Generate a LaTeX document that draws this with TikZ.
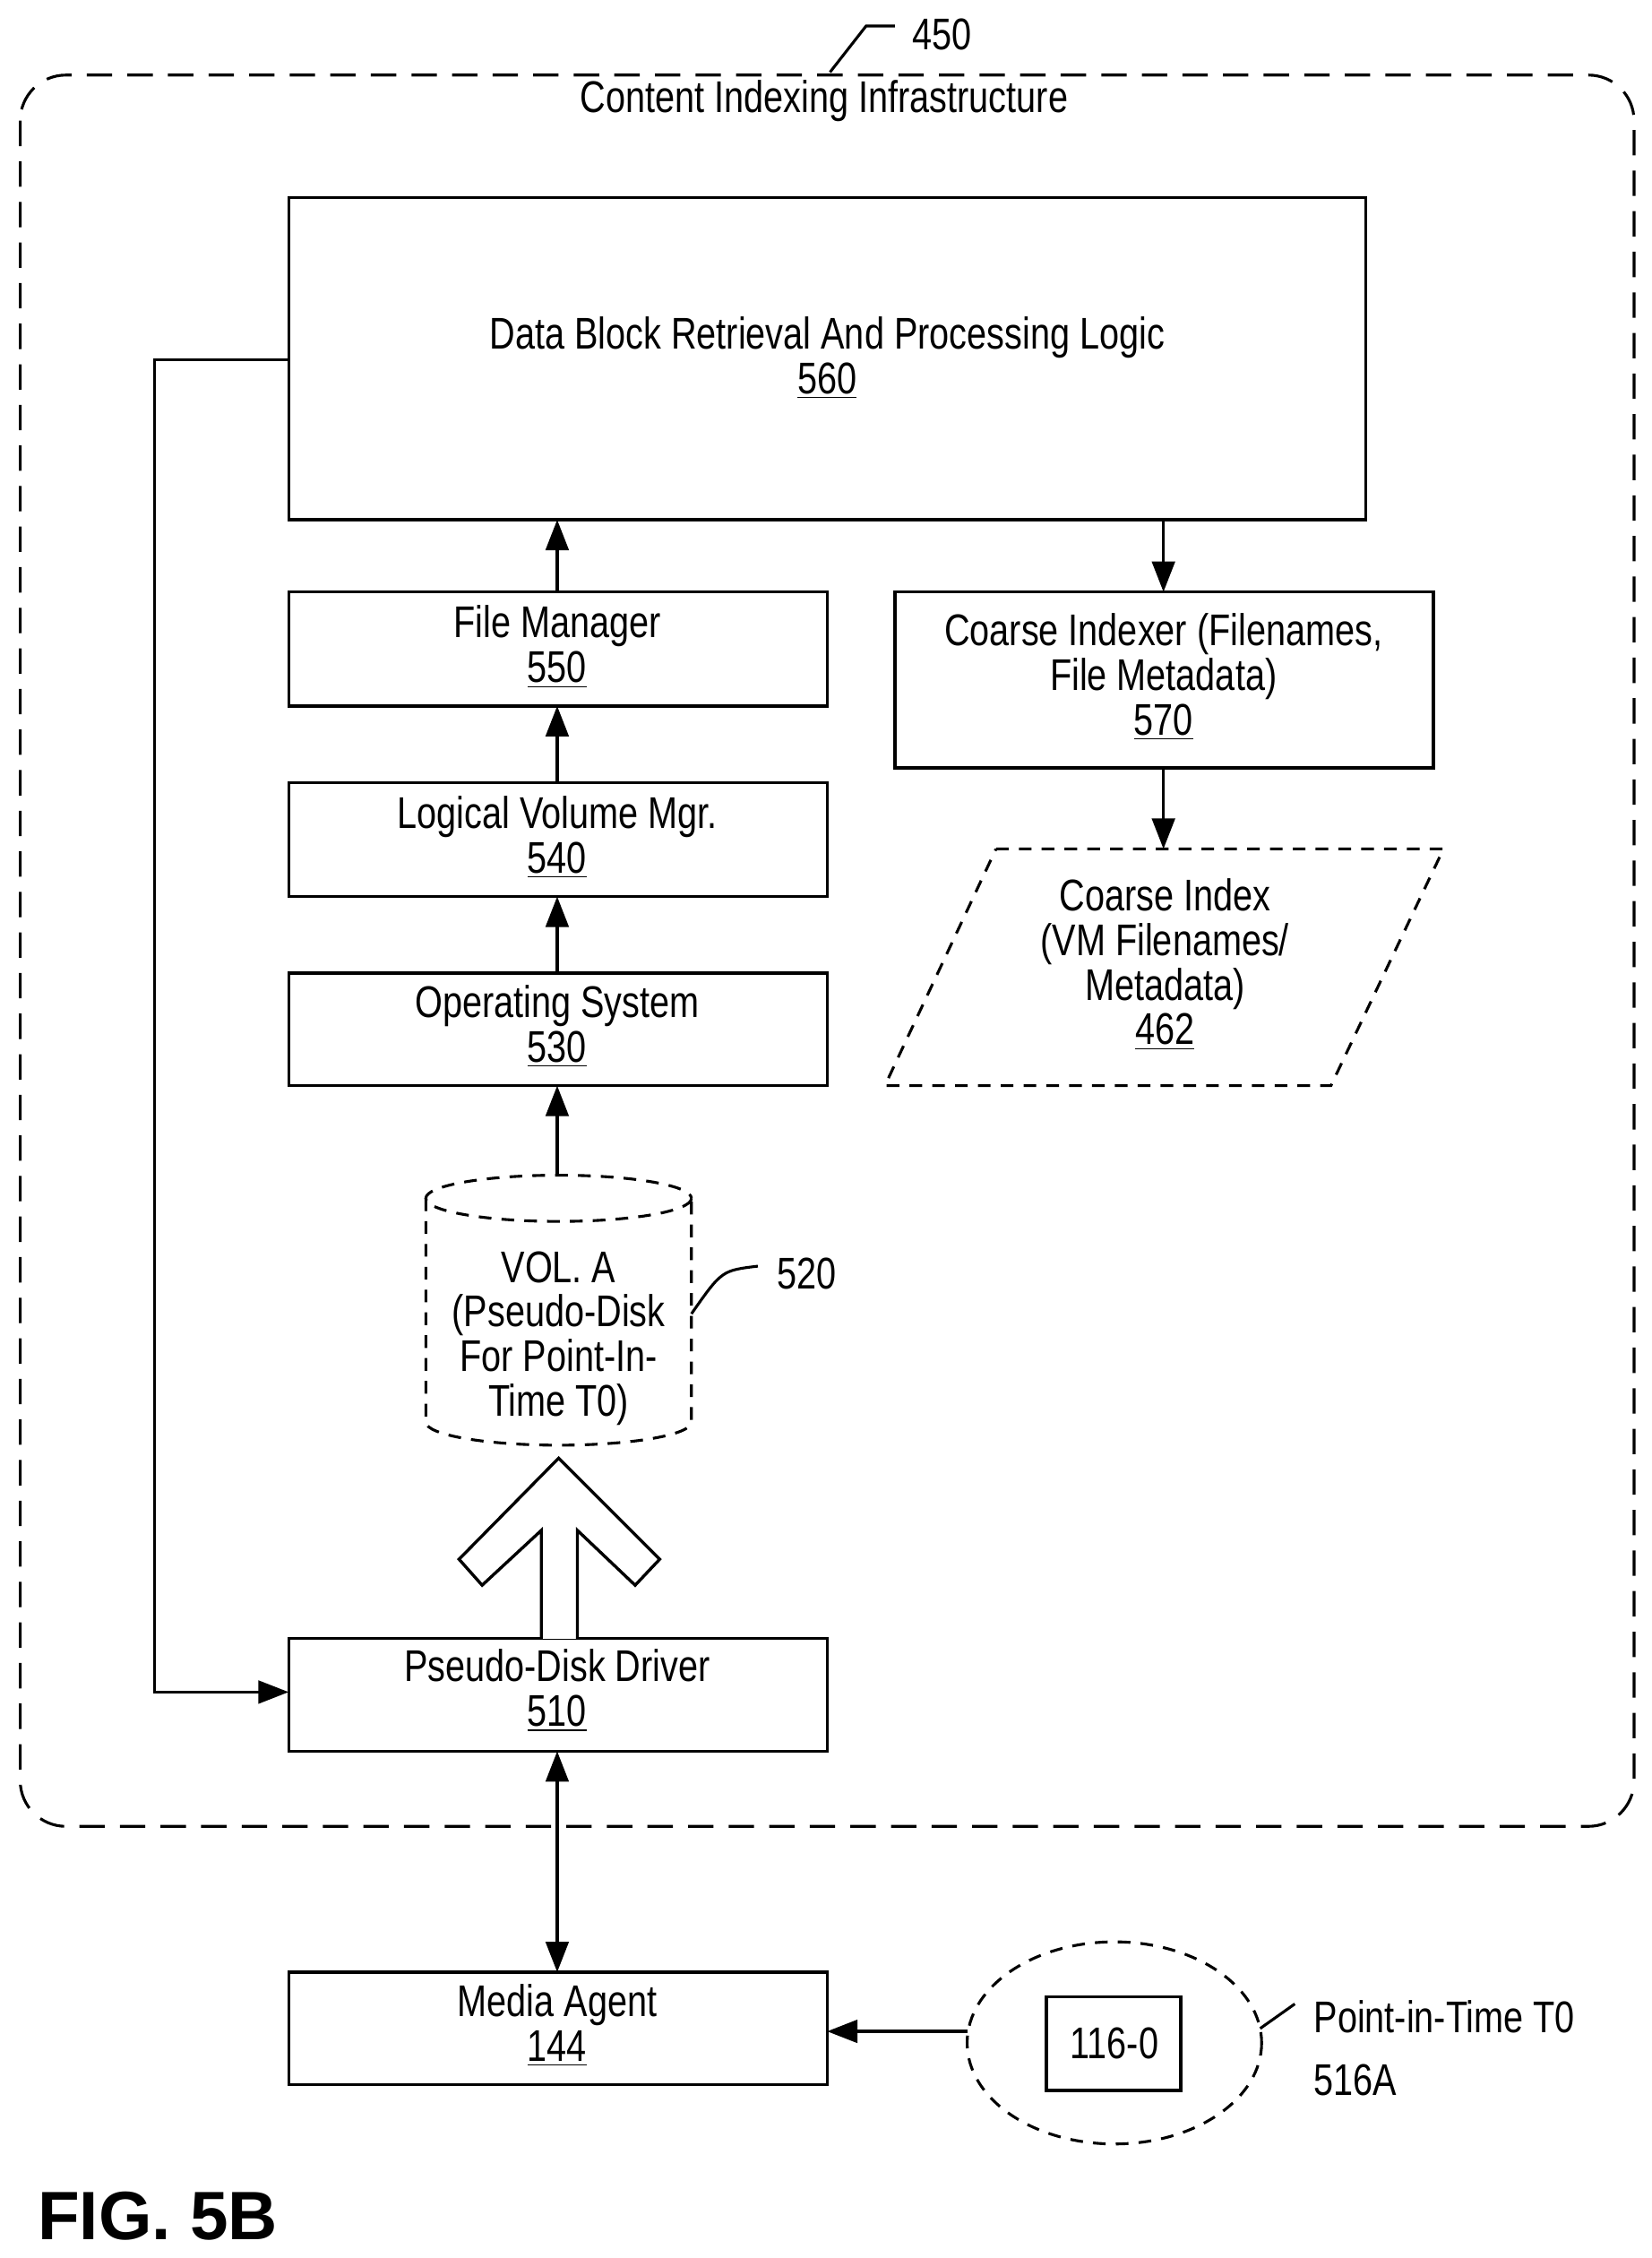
\documentclass[tikz,border=0pt]{standalone}
\usepackage{fontspec}
\setmainfont{Liberation Sans}[FakeStretch=0.8]
\newfontfamily\figfont{Liberation Sans}
\usetikzlibrary{positioning, arrows.meta, shapes.geometric}

\tikzset{
  lbl/.style={align=center, font=\fontsize{17.5}{17.6}\selectfont},
  arr/.style={-{Triangle[length=12pt,width=9pt]}, line width=1.2pt},
  dsh/.style={dash pattern=on 5pt off 4pt, line width=1.1pt},
  box/.style={line width=1.2pt}
}

\begin{document}
\begin{tikzpicture}[x=0.02cm, y=-0.02cm]
  \useasboundingbox (0,0) rectangle (1144,1564);

  % container
  \draw[dash pattern=on 10pt off 6pt, line width=1.1pt, rounded corners=18pt] (14,52) rectangle (1132,1265);
  \node[lbl] (title) at (571,70) {Content Indexing Infrastructure};
  \node[lbl, anchor=west] (n450) at (626,24) {450};
  \draw[line width=1.1pt] (575,50) -- (600,18) -- (620,18);

  % boxes
  \draw[box] (200,137) rectangle (946,360);
  \coordinate (t560) at (386,360);
  \coordinate (r560) at (806,360);
  \coordinate (l560) at (200,249);
  \node[lbl] (b560) at (573,248) {Data Block Retrieval And Processing Logic\\\underline{560}};

  \draw[box] (200,410) rectangle (573,489);
  \node[lbl] (b550) at (386,448) {File Manager\\\underline{550}};
  \draw[box] (200,542) rectangle (573,621);
  \node[lbl] (b540) at (386,580) {Logical Volume Mgr.\\\underline{540}};
  \draw[box] (200,674) rectangle (573,752);
  \node[lbl] (b530) at (386,711) {Operating System\\\underline{530}};
  \draw[box] (200,1135) rectangle (573,1213);
  \node[lbl] (b510) at (386,1171) {Pseudo-Disk Driver\\\underline{510}};
  \draw[box] (200,1366) rectangle (573,1444);
  \node[lbl] (b144) at (386,1403) {Media Agent\\\underline{144}};

  \draw[box] (620,410) rectangle (993,532);
  \node[lbl] (b570) at (806,469) {Coarse Indexer (Filenames,\\File Metadata)\\\underline{570}};

  % coarse index
  \draw[dsh] (690,588) -- (1000,588) -- (922,752) -- (613,752) -- cycle;
  \node[lbl] (b462) at (807,668) {Coarse Index\\(VM Filenames/\\Metadata)\\\underline{462}};

  % cylinder
  \draw[dsh] (387,830) ellipse [x radius=92, y radius=16];
  \draw[dsh] (295,830) -- (295,985) arc[start angle=180, end angle=0, x radius=92, y radius=16] -- (479,830);
  \node[lbl] (b520) at (387,927) {VOL. A\\(Pseudo-Disk\\For Point-In-\\Time T0)};
  \node[lbl, anchor=west] (n520) at (532,882) {520};
  \draw[line width=1.1pt] (479,910) .. controls (500,880) .. (525,877);

  % hollow arrow
  \draw[box, fill=white] (375,1135) -- (375,1060) -- (334,1098) -- (318,1080) -- (387,1010)
     -- (457,1080) -- (440,1098) -- (400,1060) -- (400,1135);

  % media
  \draw[dsh] (772,1415) ellipse [x radius=102, y radius=70];
  \draw[box] (725,1383) rectangle (818,1448);
  \node[lbl] (b116) at (772,1415) {116-0};
  \node[lbl, anchor=west] (pit) at (904,1397) {Point-in-Time T0};
  \node[lbl, anchor=west] (n516) at (904,1441) {516A};
  \draw[line width=1.1pt] (873,1405) -- (897,1388);

  % connectors
  \draw[arr] (386,410) -- (t560);
  \draw[arr] (386,542) -- (386,489);
  \draw[arr] (386,674) -- (386,621);
  \draw[arr] (386,814) -- (386,752);
  \draw[arr] (r560) -- (806,410);
  \draw[arr] (806,532) -- (806,588);
  \draw[arr, {Triangle[length=12pt,width=9pt]}-{Triangle[length=12pt,width=9pt]}] (386,1213) -- (386,1366);
  \draw[arr] (670,1407) -- (573,1407);
  \draw[arr] (l560) -- (107,249) -- (107,1172) -- (200,1172);

  \node[font=\figfont\fontsize{27}{30}\selectfont\bfseries, anchor=west] (fig) at (20,1535) {FIG. 5B};
\end{tikzpicture}
\end{document}
